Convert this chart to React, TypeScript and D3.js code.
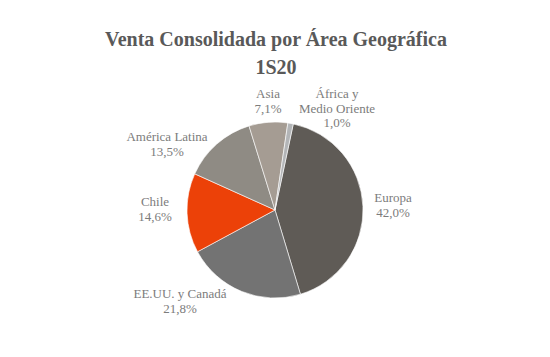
import React from "react";
import * as d3 from "d3";

const categories = ["Europa", "EE.UU. y Canadá", "Chile", "América Latina", "Asia", "África y Medio Oriente"];
const values = [42.0, 21.8, 14.6, 13.5, 7.1, 1.0];
const valueLabels = ["42,0%", "21,8%", "14,6%", "13,5%", "7,1%", "1,0%"];
const labelLines = [["Europa"], ["EE.UU. y Canadá"], ["Chile"], ["América Latina"], ["Asia"], ["África y", "Medio Oriente"]];
const titleLines = ["Venta Consolidada por Área Geográfica", "1S20"];

const colors = ["#5f5b56", "#737373", "#ec4108", "#8f8b84", "#a59c93", "#b3b5b7"];
// label anchor (first-line baseline) relative to pie center
const labelPos: [number, number][] = [
  [118, -8],
  [-95, 88],
  [-120, -4],
  [-108, -69],
  [-7, -112],
  [62, -112],
];

export default function App() {
  const W = 550, H = 357;
  const cx = 275, cy = 210, r = 88;
  const pie = d3.pie<number>().sort(null).value((d) => d)
    .startAngle((12 * Math.PI) / 180).endAngle((12 * Math.PI) / 180 + 2 * Math.PI);
  const arcs = pie(values);
  const arc = d3.arc<d3.PieArcDatum<number>>().innerRadius(0).outerRadius(r);
  const lh = 14.5;
  const serif = "'Liberation Serif', 'Times New Roman', 'DejaVu Serif', serif";
  return (
    <svg width={W} height={H} style={{ position: "fixed", left: 0, top: 0, background: "#fff" }}>
      <rect width={W} height={H} fill="#fff" />
      <g fontFamily={serif} fontWeight="bold" fill="#595959" fontSize={20} textAnchor="middle">
        {titleLines.map((t, i) => (
          <text key={i} x={cx + 1} y={46 + i * 28}>{t}</text>
        ))}
      </g>
      <g transform={`translate(${cx},${cy})`}>
        {arcs.map((a, i) => (
          <path key={i} d={arc(a) || ""} fill={colors[i]} stroke="#fff" strokeWidth={0.6} />
        ))}
        <g fontFamily={serif} fill="#7c7c7c" fontSize={13} textAnchor="middle">
          {categories.map((c, i) => {
            const lines = [...labelLines[i], valueLabels[i]];
            return (
              <text key={c} x={labelPos[i][0]} y={labelPos[i][1]}>
                {lines.map((l, j) => (
                  <tspan key={j} x={labelPos[i][0]} dy={j === 0 ? 0 : lh}>{l}</tspan>
                ))}
              </text>
            );
          })}
        </g>
      </g>
    </svg>
  );
}
